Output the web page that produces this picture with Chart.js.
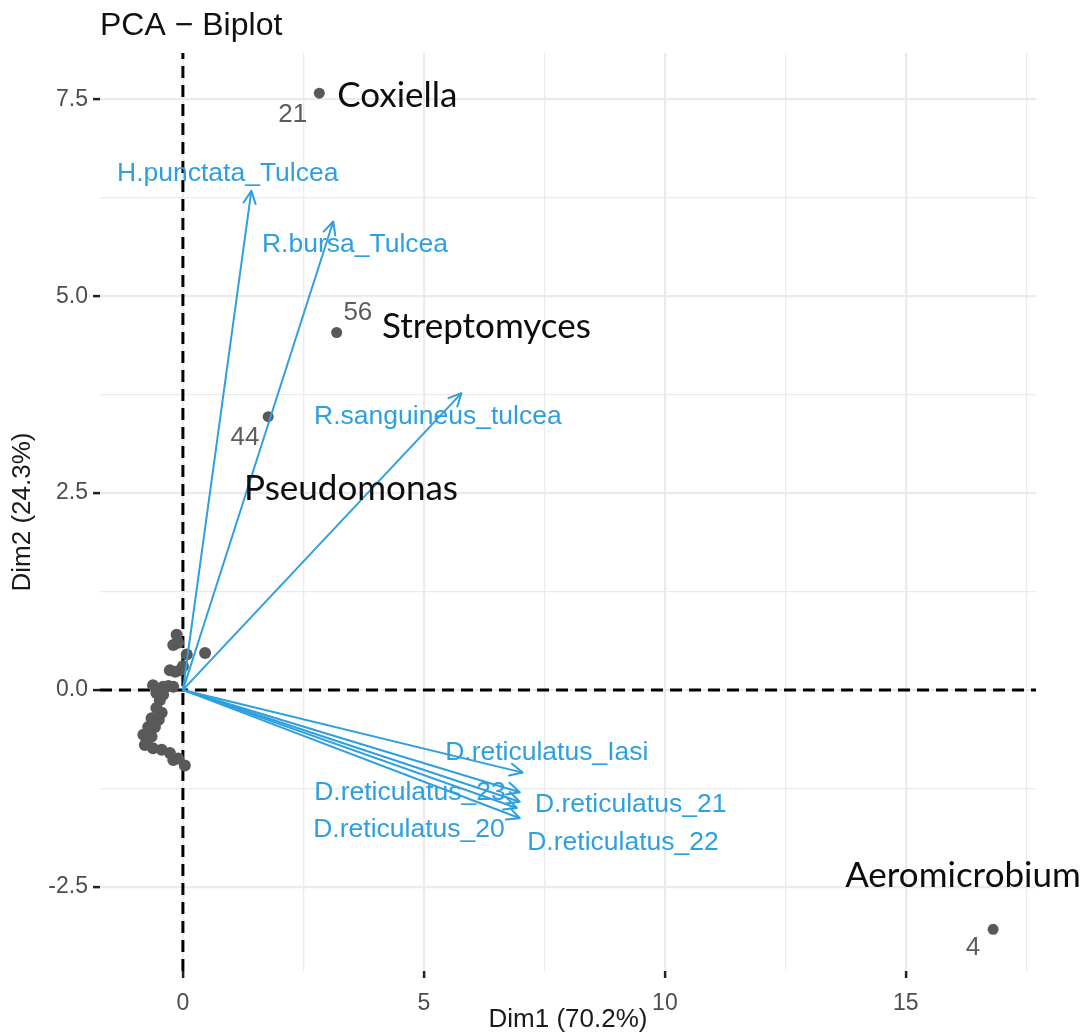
<!DOCTYPE html>
<html>
<head>
<meta charset="utf-8">
<script src="https://cdn.jsdelivr.net/npm/chart.js@4.4.1/dist/chart.umd.min.js"></script>
<style>
  html, body { margin: 0; padding: 0; background: #fff; }
  #wrap { width: 1089px; height: 1033px; }
</style>
</head>
<body>
<div id="wrap"><canvas id="biplot" width="1089" height="1033"></canvas></div>
<script>
// individuals (the grey cloud near the origin)
const clusterX = [-0.13, -0.20, -0.10, 0.46, 0.08, -0.27, -0.06, 0.00, -0.62, -0.41, -0.20, -0.55, -0.48, -0.41, -0.55, -0.44, -0.50, -0.65, -0.72, -0.58, -0.68, -0.82, -0.65, -0.75, -0.79, -0.62, -0.44, -0.27, -0.20, -0.10, 0.04, -0.16, -0.30];
const clusterY = [0.70, 0.57, 0.60, 0.47, 0.45, 0.25, 0.25, 0.30, 0.06, 0.04, 0.04, -0.04, -0.13, -0.06, -0.23, -0.29, -0.38, -0.36, -0.47, -0.47, -0.50, -0.57, -0.59, -0.64, -0.70, -0.74, -0.76, -0.80, -0.89, -0.87, -0.96, 0.23, 0.05];

// labelled individuals
const indNames = ['21', '56', '44', '4'];
const indX = [2.83, 3.19, 1.77, 16.81];
const indY = [7.58, 4.54, 3.47, -3.04];
const indLabelX = [2.28, 3.63, 1.29, 16.39];
const indLabelY = [7.31, 4.79, 3.20, -3.28];

// variables (arrows)
const varNames = ['H.punctata_Tulcea', 'R.bursa_Tulcea', 'R.sanguineus_tulcea', 'D.reticulatus_Iasi', 'D.reticulatus_23', 'D.reticulatus_21', 'D.reticulatus_22', 'D.reticulatus_20'];
const varX = [1.42, 3.12, 5.78, 7.05, 6.99, 6.99, 6.93, 6.99];
const varY = [6.34, 5.95, 3.77, -1.05, -1.30, -1.42, -1.50, -1.63];
const varLabelX = [0.93, 3.57, 5.29, 7.55, 4.71, 9.29, 9.13, 4.69];
const varLabelY = [6.56, 5.65, 3.47, -0.80, -1.30, -1.46, -1.94, -1.78];

// genus annotations
const genusNames = ['Coxiella', 'Streptomyces', 'Pseudomonas', 'Aeromicrobium'];
const genusX = [3.20, 4.13, 1.27, 13.74];
const genusY = [7.40, 4.47, 2.41, -2.50];

// axes
const xRange = [-1.72, 17.7];
const yRange = [-3.57, 8.09];
const xTicks = [0, 2.5, 5, 7.5, 10, 12.5, 15, 17.5];
const yTicks = [-2.5, -1.25, 0, 1.25, 2.5, 3.75, 5, 6.25, 7.5];
const xMajor = [0, 5, 10, 15];
const yMajor = [-2.5, 0, 2.5, 5, 7.5];

const arrowBlue = '#2E9FDF';
const pointGrey = '#595959';
const sans = '"Liberation Sans", Arial, sans-serif';

const isMajor = (list, v) => list.some(m => Math.abs(m - v) < 1e-9);

const arrowSets = varNames.map((name, i) => ({
    label: name,
    type: 'line',
    data: [{ x: 0, y: 0 }, { x: varX[i], y: varY[i] }],
    borderColor: arrowBlue,
    borderWidth: 2,
    pointRadius: 0,
    fill: false,
}));

// drawing the arrow heads and all the text labels
const overlay = {
    id: 'overlay',
    afterDatasetsDraw(chart) {
        const { ctx, scales: { x, y } } = chart;
        const ox = x.getPixelForValue(0), oy = y.getPixelForValue(0);
        ctx.save();
        ctx.strokeStyle = arrowBlue;
        ctx.lineWidth = 2;
        ctx.lineCap = 'round';
        ctx.lineJoin = 'round';
        varX.forEach((vx, i) => {
            const tx = x.getPixelForValue(vx), ty = y.getPixelForValue(varY[i]);
            const a = Math.atan2(ty - oy, tx - ox);
            const len = 14, spread = 0.45;
            ctx.beginPath();
            ctx.moveTo(tx - len * Math.cos(a - spread), ty - len * Math.sin(a - spread));
            ctx.lineTo(tx, ty);
            ctx.lineTo(tx - len * Math.cos(a + spread), ty - len * Math.sin(a + spread));
            ctx.stroke();
        });

        ctx.textAlign = 'center';
        ctx.textBaseline = 'middle';
        ctx.fillStyle = arrowBlue;
        ctx.font = '26.5px ' + sans;
        varNames.forEach((name, i) => {
            ctx.fillText(name, x.getPixelForValue(varLabelX[i]), y.getPixelForValue(varLabelY[i]));
        });

        ctx.fillStyle = '#5c5c5c';
        ctx.font = '26px ' + sans;
        indNames.forEach((name, i) => {
            ctx.fillText(name, x.getPixelForValue(indLabelX[i]), y.getPixelForValue(indLabelY[i]));
        });

        ctx.textAlign = 'left';
        ctx.textBaseline = 'alphabetic';
        ctx.fillStyle = '#0d0d0d';
        ctx.font = '35px Lato, "Open Sans", sans-serif';
        genusNames.forEach((name, i) => {
            ctx.fillText(name, x.getPixelForValue(genusX[i]), y.getPixelForValue(genusY[i]));
        });
        ctx.restore();
    },
    afterDraw(chart) {
        const { ctx, chartArea } = chart;
        ctx.save();
        ctx.fillStyle = '#111';
        ctx.font = '32px ' + sans;
        ctx.textAlign = 'left';
        ctx.textBaseline = 'alphabetic';
        ctx.fillText('PCA \u2212 Biplot', chartArea.left, 35);
        ctx.restore();
    }
};

new Chart(document.getElementById('biplot'), {
    type: 'scatter',
    data: {
        datasets: [
            ...arrowSets,
            {
                label: 'labelled',
                data: indX.map((v, i) => ({ x: v, y: indY[i] })),
                backgroundColor: pointGrey,
                borderWidth: 0,
                pointRadius: 5.5,
            },
            {
                label: 'individuals',
                data: clusterX.map((v, i) => ({ x: v, y: clusterY[i] })),
                backgroundColor: pointGrey,
                borderWidth: 0,
                pointRadius: 6,
            },
            {
                label: 'h0',
                type: 'line',
                data: [{ x: xRange[0], y: 0 }, { x: xRange[1], y: 0 }],
                borderColor: '#000',
                borderWidth: 3,
                borderDash: [12, 7],
                pointRadius: 0,
            },
            {
                label: 'v0',
                type: 'line',
                data: [{ x: 0, y: yRange[0] }, { x: 0, y: yRange[1] }],
                borderColor: '#000',
                borderWidth: 3,
                borderDash: [12, 7],
                pointRadius: 0,
            },
        ]
    },
    options: {
        responsive: false,
        animation: false,
        layout: { padding: { top: 53, right: 53, bottom: 0, left: 0 } },
        plugins: {
            legend: { display: false },
            tooltip: { enabled: false },
        },
        scales: {
            x: {
                type: 'linear',
                min: xRange[0],
                max: xRange[1],
                afterBuildTicks: (scale) => { scale.ticks = xTicks.map(v => ({ value: v })); },
                afterFit: (scale) => { scale.height = 62; },
                border: { display: false },
                grid: {
                    color: '#EBEBEB',
                    lineWidth: (c) => isMajor(xMajor, c.tick.value) ? 2.2 : 1.3,
                    tickColor: (c) => isMajor(xMajor, c.tick.value) ? '#222' : 'rgba(0,0,0,0)',
                    tickWidth: 2.5,
                    tickLength: 7,
                },
                ticks: {
                    autoSkip: false,
                    maxRotation: 0,
                    padding: 12,
                    color: '#4D4D4D',
                    font: { family: sans, size: 23 },
                    callback: (v) => isMajor(xMajor, v) ? String(v) : '',
                },
                title: {
                    display: true,
                    text: 'Dim1 (70.2%)',
                    color: '#1a1a1a',
                    font: { family: sans, size: 26, lineHeight: 1 },
                    padding: { top: 0, bottom: 0 },
                },
            },
            y: {
                type: 'linear',
                min: yRange[0],
                max: yRange[1],
                afterBuildTicks: (scale) => { scale.ticks = yTicks.map(v => ({ value: v })); },
                afterFit: (scale) => { scale.width = 100; },
                border: { display: false },
                grid: {
                    color: '#EBEBEB',
                    lineWidth: (c) => isMajor(yMajor, c.tick.value) ? 2.2 : 1.3,
                    tickColor: (c) => isMajor(yMajor, c.tick.value) ? '#222' : 'rgba(0,0,0,0)',
                    tickWidth: 2.5,
                    tickLength: 7,
                },
                ticks: {
                    autoSkip: false,
                    padding: 5,
                    color: '#4D4D4D',
                    font: { family: sans, size: 23 },
                    callback: (v) => isMajor(yMajor, v) ? v.toFixed(1) : '',
                },
                title: {
                    display: true,
                    text: 'Dim2 (24.3%)',
                    color: '#1a1a1a',
                    font: { family: sans, size: 26, lineHeight: 1 },
                    padding: { top: 10, bottom: 0 },
                },
            },
        },
    },
    plugins: [overlay],
});
</script>
</body>
</html>
